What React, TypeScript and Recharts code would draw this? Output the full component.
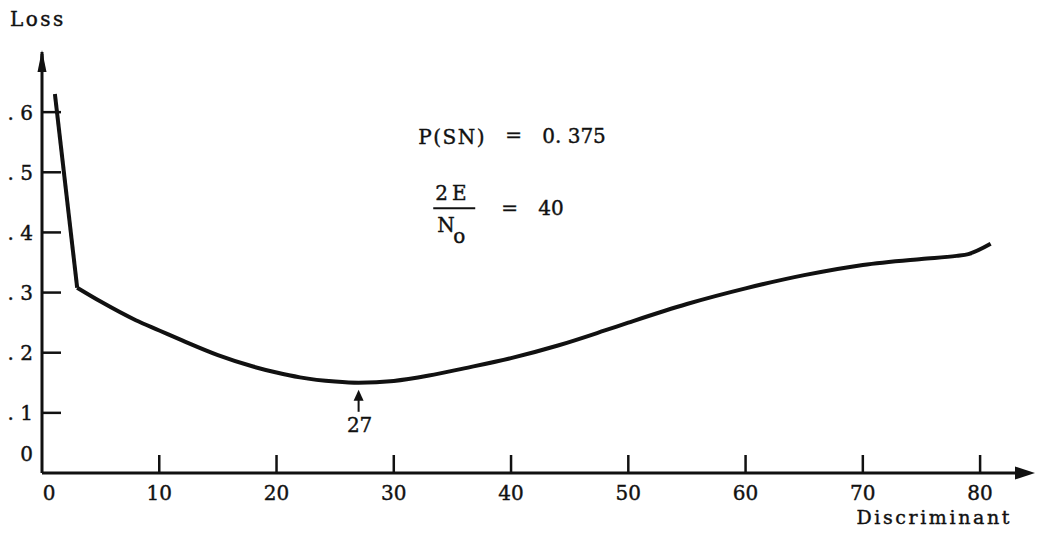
import React from 'react';
import { LineChart, Line, XAxis, YAxis, ReferenceDot } from 'recharts';

// Steep initial segment of the loss curve
const steepDiscriminant = [1.1, 3];
const steepLoss = [0.63, 0.308];

// Smooth part of the loss curve
const curveDiscriminant = [3, 5, 8, 10, 12, 15, 18, 20, 22, 25, 27, 30, 33, 36, 40, 44, 48, 50, 55, 60, 65, 70, 75, 78, 79, 80.9];
const curveLoss = [0.308, 0.285, 0.254, 0.237, 0.220, 0.196, 0.177, 0.167, 0.159, 0.152, 0.150, 0.153, 0.162, 0.174, 0.191, 0.212, 0.237, 0.250, 0.281, 0.307, 0.329, 0.346, 0.356, 0.361, 0.364, 0.381];

const xTicks = [0, 10, 20, 30, 40, 50, 60, 70, 80];
const yTicks = [0, 0.1, 0.2, 0.3, 0.4, 0.5, 0.6];
const yTickLabels = ['0', '. 1', '. 2', '. 3', '. 4', '. 5', '. 6'];

const minimumAt = 27;
const minimumLabel = '27';
const pSN = '0. 375';
const snr = '40';

const steepData = steepDiscriminant.map((x, i) => ({ x, loss: steepLoss[i] }));
const curveData = curveDiscriminant.map((x, i) => ({ x, loss: curveLoss[i] }));
const minLoss = curveLoss[curveDiscriminant.indexOf(minimumAt)];

const FONT = '"DejaVu Serif", serif';
const textStyle = { fontFamily: FONT, fontSize: 20, fill: '#111', stroke: '#111', strokeWidth: 0.4 } as const;

const XTick = (props: any) => {
  const { x, y, payload } = props;
  const v = payload.value;
  return (
    <g>
      {v !== 0 && <line x1={x} y1={y} x2={x} y2={y - 18} stroke="#111" strokeWidth={2.5} />}
      <text x={x + (v === 0 ? 7 : 0)} y={y + 27} textAnchor="middle" {...textStyle}>
        {v}
      </text>
    </g>
  );
};

const YTick = (props: any) => {
  const { x, y, payload } = props;
  const v = payload.value;
  const label = yTickLabels[yTicks.indexOf(v)] ?? String(v);
  return (
    <g>
      {v !== 0 && <line x1={x} y1={y} x2={x + 19} y2={y} stroke="#111" strokeWidth={2.5} />}
      <text x={x - 9} y={y + 7.5 - (v === 0 ? 20 : 0)} textAnchor="end" {...textStyle}>
        {label}
      </text>
    </g>
  );
};

const YArrow = (p: any) => {
  const { cx, cy } = p;
  return (
    <g>
      <line x1={cx} y1={cy + 2} x2={cx} y2={cy + 18} stroke="#111" strokeWidth={3} />
      <polygon points={`${cx},${cy - 2} ${cx + 4.5},${cy + 20} ${cx - 4.5},${cy + 20}`} fill="#111" />
      <text x={cx - 32} y={cy - 26} {...textStyle} letterSpacing={2.5}>Loss</text>
    </g>
  );
};

const XArrow = (p: any) => {
  const { cx, cy } = p;
  return (
    <g>
      <polygon points={`${cx + 8},${cy} ${cx - 12},${cy - 6.5} ${cx - 12},${cy + 6.5}`} fill="#111" />
      <text x={cx - 15} y={cy + 51} textAnchor="end" {...textStyle} fontSize={19} letterSpacing={2.6}>Discriminant</text>
    </g>
  );
};

const MinArrow = (p: any) => {
  const { cx, cy } = p;
  return (
    <g>
      <polygon points={`${cx},${cy + 7} ${cx - 5},${cy + 18} ${cx + 5},${cy + 18}`} fill="#111" />
      <line x1={cx} y1={cy + 17} x2={cx} y2={cy + 29} stroke="#111" strokeWidth={2} />
      <text x={cx + 1} y={cy + 49} textAnchor="middle" {...textStyle}>{minimumLabel}</text>
    </g>
  );
};

const Annotation = (p: any) => {
  const { cx, cy } = p;
  return (
    <g>
      <text x={cx + 1} y={cy + 2} {...textStyle} letterSpacing={1.5}>P(SN)</text>
      <text x={cx + 88} y={cy} {...textStyle}>=</text>
      <text x={cx + 125} y={cy + 1} {...textStyle}>{pSN}</text>

      <text x={cx + 18} y={cy + 58} {...textStyle} letterSpacing={4}>2E</text>
      <line x1={cx + 16} y1={cy + 66} x2={cx + 58} y2={cy + 66} stroke="#111" strokeWidth={2} />
      <text x={cx + 20} y={cy + 90} {...textStyle}>N</text>
      <text x={cx + 36} y={cy + 101} {...textStyle}>o</text>
      <text x={cx + 84} y={cy + 73} {...textStyle}>=</text>
      <text x={cx + 121} y={cy + 73} {...textStyle}>{snr}</text>
    </g>
  );
};

export default function App() {
  return (
    <div style={{ position: 'absolute', left: 0, top: 0, background: '#fff' }}>
      <LineChart width={1037} height={538} margin={{ top: 52, right: 10, bottom: 64, left: 41 }}>
        <XAxis
          type="number"
          dataKey="x"
          domain={[0, 84]}
          ticks={xTicks}
          height={1}
          tickSize={0}
          tickMargin={0}
          tickLine={false}
          axisLine={{ stroke: '#111', strokeWidth: 3 }}
          tick={<XTick />}
          interval={0}
        />
        <YAxis
          type="number"
          dataKey="loss"
          domain={[0, 0.7]}
          ticks={yTicks}
          width={1}
          tickSize={0}
          tickMargin={0}
          tickLine={false}
          axisLine={{ stroke: '#111', strokeWidth: 3 }}
          tick={<YTick />}
          interval={0}
        />
        <Line
          data={steepData}
          dataKey="loss"
          type="linear"
          stroke="#111"
          strokeWidth={4}
          dot={false}
          activeDot={false}
          isAnimationActive={false}
          strokeLinejoin="round"
        />
        <Line
          data={curveData}
          dataKey="loss"
          type="monotone"
          stroke="#111"
          strokeWidth={4}
          dot={false}
          activeDot={false}
          isAnimationActive={false}
          strokeLinejoin="round"
        />
        <ReferenceDot x={0} y={0.7} r={0} ifOverflow="visible" shape={YArrow} />
        <ReferenceDot x={84} y={0} r={0} ifOverflow="visible" shape={XArrow} />
        <ReferenceDot x={minimumAt} y={minLoss} r={0} ifOverflow="visible" shape={MinArrow} />
        <ReferenceDot x={32} y={0.55} r={0} ifOverflow="visible" shape={Annotation} />
      </LineChart>
    </div>
  );
}
